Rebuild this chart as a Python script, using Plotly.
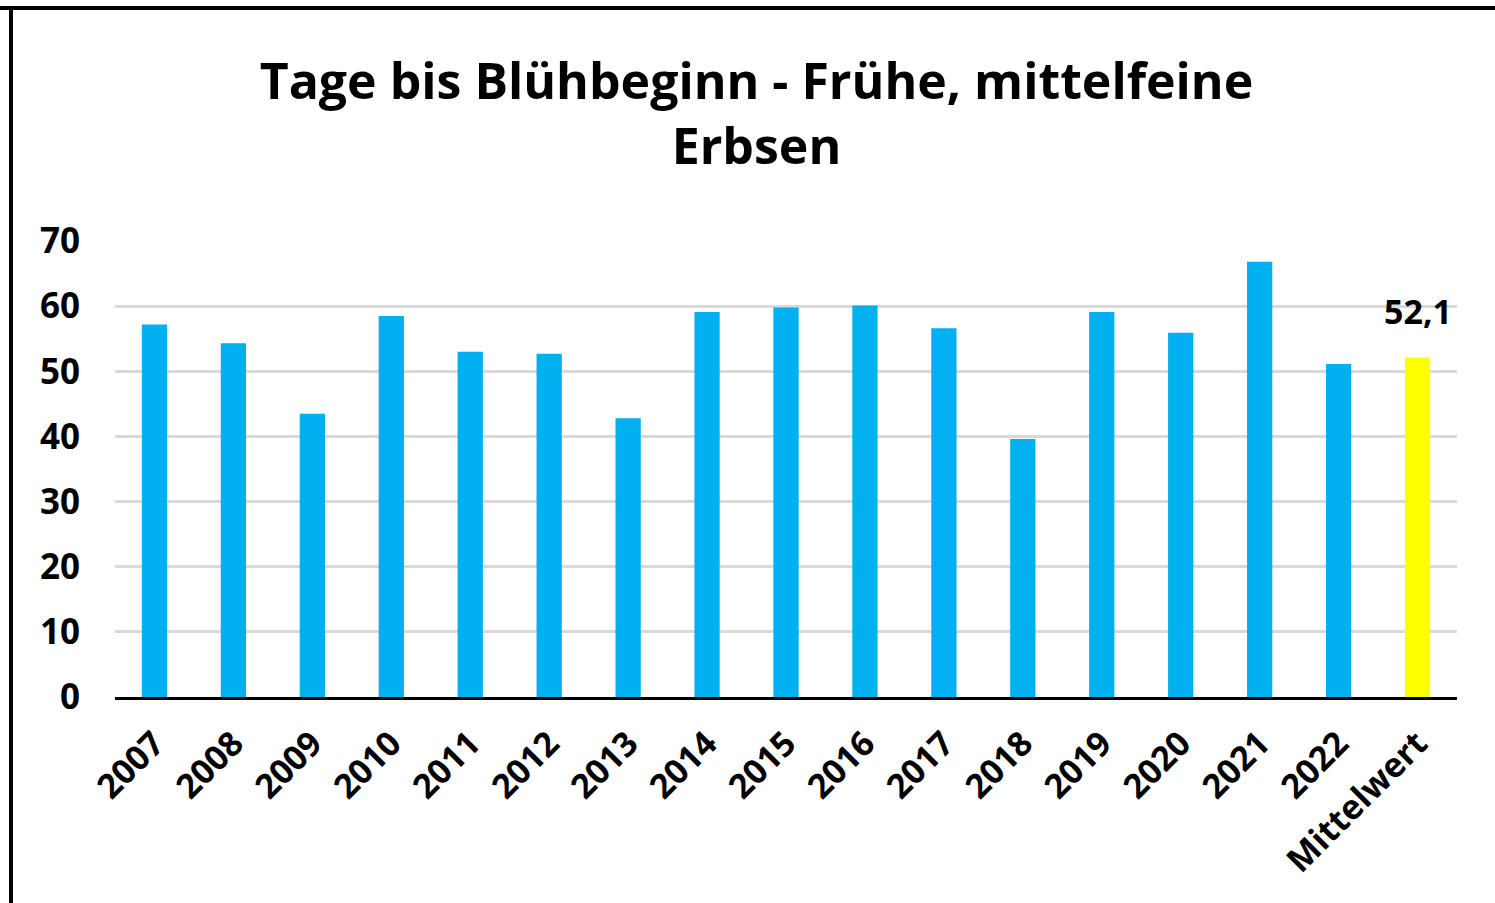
import plotly.graph_objects as go

categories = ["2007", "2008", "2009", "2010", "2011", "2012", "2013", "2014",
              "2015", "2016", "2017", "2018", "2019", "2020", "2021", "2022", "Mittelwert"]
values = [57.2, 54.3, 43.5, 58.5, 53.0, 52.7, 42.8, 59.1,
          59.8, 60.1, 56.6, 39.6, 59.1, 55.9, 66.8, 51.1, 52.1]
year_color = "#00B0F0"
mean_color = "#FFFF00"
colors = [year_color] * (len(categories) - 1) + [mean_color]
mean_label = f"{values[-1]:.1f}".replace(".", ",")

FONT = "Open Sans"

fig = go.Figure()
fig.add_trace(go.Bar(
    x=categories, y=values,
    marker=dict(color=colors, line=dict(width=0)),
    showlegend=False,
))

fig.add_annotation(
    x=categories[-1], y=values[-1], xref="x", yref="y",
    text=mean_label, showarrow=False, yanchor="bottom", yshift=22,
    font=dict(family=FONT, size=34, color="#000000", weight="bold"),
)

fig.update_layout(
    width=1495, height=903,
    margin=dict(l=115, r=38, t=241, b=206),
    paper_bgcolor="white", plot_bgcolor="white",
    bargap=0.68,
    title=dict(
        text="Tage bis Blühbeginn - Frühe, mittelfeine<br>Erbsen",
        x=0.478, xanchor="center", xref="paper",
        y=1 - 99 / 903, yanchor="middle", yref="container",
        font=dict(family=FONT, size=50, color="#000000", weight="bold"),
    ),
    xaxis=dict(
        tickangle=-45, showgrid=False, showline=True, linecolor="#000000", linewidth=3,
        ticks="", ticklabelstandoff=10,
        tickfont=dict(family=FONT, size=34, color="#000000", weight="bold"),
    ),
    yaxis=dict(
        range=[0, 70], dtick=10, showgrid=True, gridcolor="#D9D9D9", gridwidth=2.5,
        zeroline=False, showline=False, ticks="", ticklabelstandoff=34,
        tickfont=dict(family=FONT, size=35, color="#000000", weight="bold"),
    ),
    shapes=[
        dict(type="line", xref="paper", yref="paper", x0=-115/1342, x1=(1495-115)/1342,
             y0=(903-206-8)/456, y1=(903-206-8)/456,
             line=dict(color="#000000", width=4)),
        dict(type="line", xref="paper", yref="paper", x0=-(115-11)/1342, x1=-(115-11)/1342,
             y0=(903-206-8)/456, y1=-206/456,
             line=dict(color="#000000", width=4)),
    ],
)

fig.write_html("out.html", config={"displayModeBar": False},
               post_script="document.body.style.margin='0';")
